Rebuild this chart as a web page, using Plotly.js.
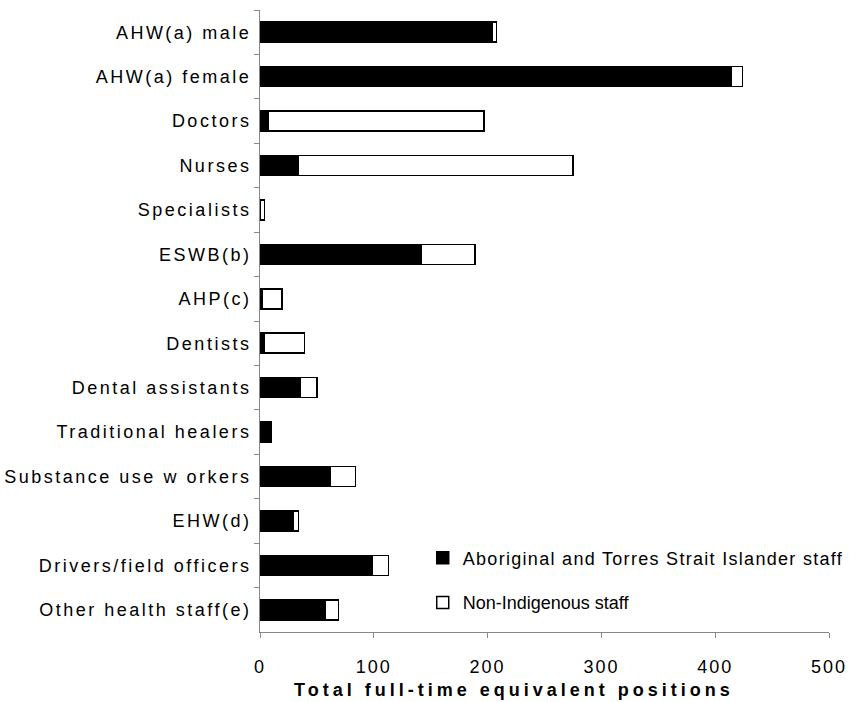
<!DOCTYPE html>
<html>
<head>
<meta charset="utf-8">
<script src="https://cdn.plot.ly/plotly-3.0.1.min.js"></script>
<style>
  html, body { margin: 0; padding: 0; background: #fff; }
  #chart { width: 857px; height: 702px; }
  .ytick text { letter-spacing: 2.5px; }
  .xtick text { letter-spacing: 2px; }
  .annotation-text { letter-spacing: 4px; }
</style>
</head>
<body>
<div id="chart"></div>
<script>
const categories = [
  "AHW(a) male", "AHW(a) female", "Doctors", "Nurses", "Specialists",
  "ESWB(b)", "AHP(c)", "Dentists", "Dental assistants", "Traditional healers",
  "Substance use w orkers", "EHW(d)", "Drivers/field officers", "Other health staff(e)"
];
const indigenousStaff = [204, 414, 7, 34, 0.5, 142, 2, 4, 35, 10, 62, 29.5, 99, 57];
const nonIndigenousStaff = [4, 10, 190, 241, 3.5, 47, 17.5, 35, 15, 0, 22, 4.5, 14, 12];
const seriesNames = ["Aboriginal and Torres Strait Islander staff", "Non-Indigenous staff"];
const xTickValues = [0, 100, 200, 300, 400, 500];
const xAxisTitle = "Total full-time equivalent positions";

const fontFamily = "Liberation Sans, Arial, sans-serif";

const traces = [
  {
    type: "bar", orientation: "h", name: seriesNames[0],
    y: categories, x: indigenousStaff,
    marker: { color: "#000000", line: { color: "#000000", width: 1.5 } },
    legend: "legend", hoverinfo: "skip"
  },
  {
    type: "bar", orientation: "h", name: seriesNames[1],
    y: categories, x: nonIndigenousStaff,
    marker: { color: "#ffffff", line: { color: "#000000", width: 1.5 } },
    legend: "legend2", hoverinfo: "skip"
  }
];

const layout = {
  width: 857, height: 702,
  margin: { l: 260, r: 28, t: 10, b: 70, autoexpand: false },
  paper_bgcolor: "#ffffff", plot_bgcolor: "#ffffff",
  barmode: "stack", bargap: 0.55,
  font: { family: fontFamily, size: 18, color: "#000000" },
  xaxis: {
    range: [0, 500], tickvals: xTickValues, ticktext: xTickValues.map(String),
    ticks: "outside", ticklen: 5, tickcolor: "#888888", tickwidth: 1,
    showline: true, linecolor: "#888888", linewidth: 1,
    showgrid: false, zeroline: false, fixedrange: true,
    ticklabelstandoff: 13,
    tickfont: { family: fontFamily, size: 18, color: "#000000" }
  },
  yaxis: {
    type: "category", autorange: "reversed", tickson: "boundaries",
    ticks: "outside", ticklen: 5, tickcolor: "#888888", tickwidth: 1,
    showline: true, linecolor: "#888888", linewidth: 1,
    showgrid: false, zeroline: false, fixedrange: true,
    ticklabelstandoff: 4,
    tickfont: { family: fontFamily, size: 18, color: "#000000" }
  },
  annotations: [{
    text: xAxisTitle, xref: "paper", yref: "paper",
    x: 0.447, y: -0.094, xanchor: "center", yanchor: "middle",
    showarrow: false,
    font: { family: fontFamily, size: 18, color: "#000000", weight: "bold" }
  }],
  showlegend: true,
  legend: {
    x: 0.286, y: 0.119, xanchor: "left", yanchor: "middle",
    bgcolor: "rgba(0,0,0,0)", borderwidth: 0,
    font: { family: fontFamily, size: 18, color: "#000000" }
  },
  legend2: {
    x: 0.286, y: 0.047, xanchor: "left", yanchor: "middle",
    bgcolor: "rgba(0,0,0,0)", borderwidth: 0,
    font: { family: fontFamily, size: 18, color: "#000000" }
  }
};

Plotly.newPlot("chart", traces, layout, { displayModeBar: false, staticPlot: true }).then(function () {
  document.querySelectorAll(".legend .scrollbox").forEach(function (s) { s.removeAttribute("clip-path"); });
  document.querySelectorAll(".legendtext").forEach(function (t) { t.style.letterSpacing = "1.3px"; });
});
</script>
</body>
</html>
